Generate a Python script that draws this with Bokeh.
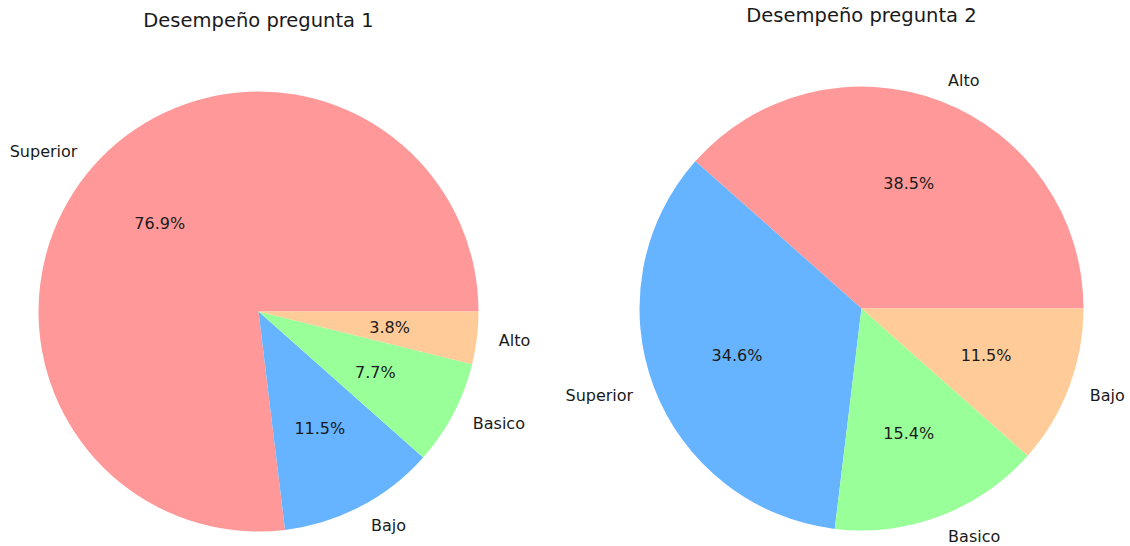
import numpy as np
from bokeh.plotting import figure
from bokeh.models import Range1d, ColumnDataSource
from bokeh.core.properties import value
from bokeh.embed import file_html
from bokeh.resources import INLINE

# Data
titles = ["Desempeño pregunta 1", "Desempeño pregunta 2"]
labels1 = ["Superior", "Bajo", "Basico", "Alto"]
counts1 = [20, 3, 2, 1]
labels2 = ["Alto", "Superior", "Basico", "Bajo"]
counts2 = [10, 9, 4, 3]
colors1 = ["#ff9999", "#66b3ff", "#99ff99", "#ffcc99"]
colors2 = ["#ff9999", "#66b3ff", "#99ff99", "#ffcc99"]

W, H = 1130, 546
p = figure(width=W, height=H, output_backend="svg", toolbar_location=None,
           x_range=Range1d(0, W), y_range=Range1d(0, H),
           min_border=0)
p.axis.visible = False
p.grid.visible = False
p.outline_line_color = None

FONT = value("DejaVu Sans")

def pie(cx_s, cy_s, r, labels, counts, colors, title, title_y_s):
    cx = cx_s
    cy = H - cy_s
    vals = np.array(counts, dtype=float)
    frac = vals / vals.sum()
    ends = np.cumsum(frac) * 2 * np.pi
    starts = np.concatenate([[0], ends[:-1]])
    src = ColumnDataSource(dict(start=starts, end=ends, color=colors))
    p.wedge(x=cx, y=cy, radius=r, start_angle="start", end_angle="end",
            color="color", line_color=None, direction="anticlock", source=src)
    mids = (starts + ends) / 2
    lx = cx + 1.1 * r * np.cos(mids)
    ly = cy + 1.1 * r * np.sin(mids)
    aligns = ["left" if np.cos(m) > 0 else "right" for m in mids]
    lsrc = ColumnDataSource(dict(x=lx, y=ly, t=labels, a=aligns))
    p.text(x="x", y="y", text="t", text_align="a", text_baseline="middle",
           text_font=FONT, text_font_size="16px", text_color="#1a1a1a", source=lsrc)
    px = cx + 0.6 * r * np.cos(mids)
    py = cy + 0.6 * r * np.sin(mids)
    pct = ["%.1f%%" % (f * 100) for f in frac]
    psrc = ColumnDataSource(dict(x=px, y=py, t=pct))
    p.text(x="x", y="y", text="t", text_align="center", text_baseline="middle",
           text_font=FONT, text_font_size="16px", text_color="#1a1a1a", source=psrc)
    p.text(x=[cx], y=[H - title_y_s], text=[title], text_align="center",
           text_baseline="middle", text_font=FONT, text_font_size="19.5px",
           text_color="#1a1a1a")

pie(258, 311, 220, labels1, counts1, colors1, titles[0], 20)
pie(861, 308, 222, labels2, counts2, colors2, titles[1], 15)

open("out.html", "w").write(file_html(p, INLINE))
